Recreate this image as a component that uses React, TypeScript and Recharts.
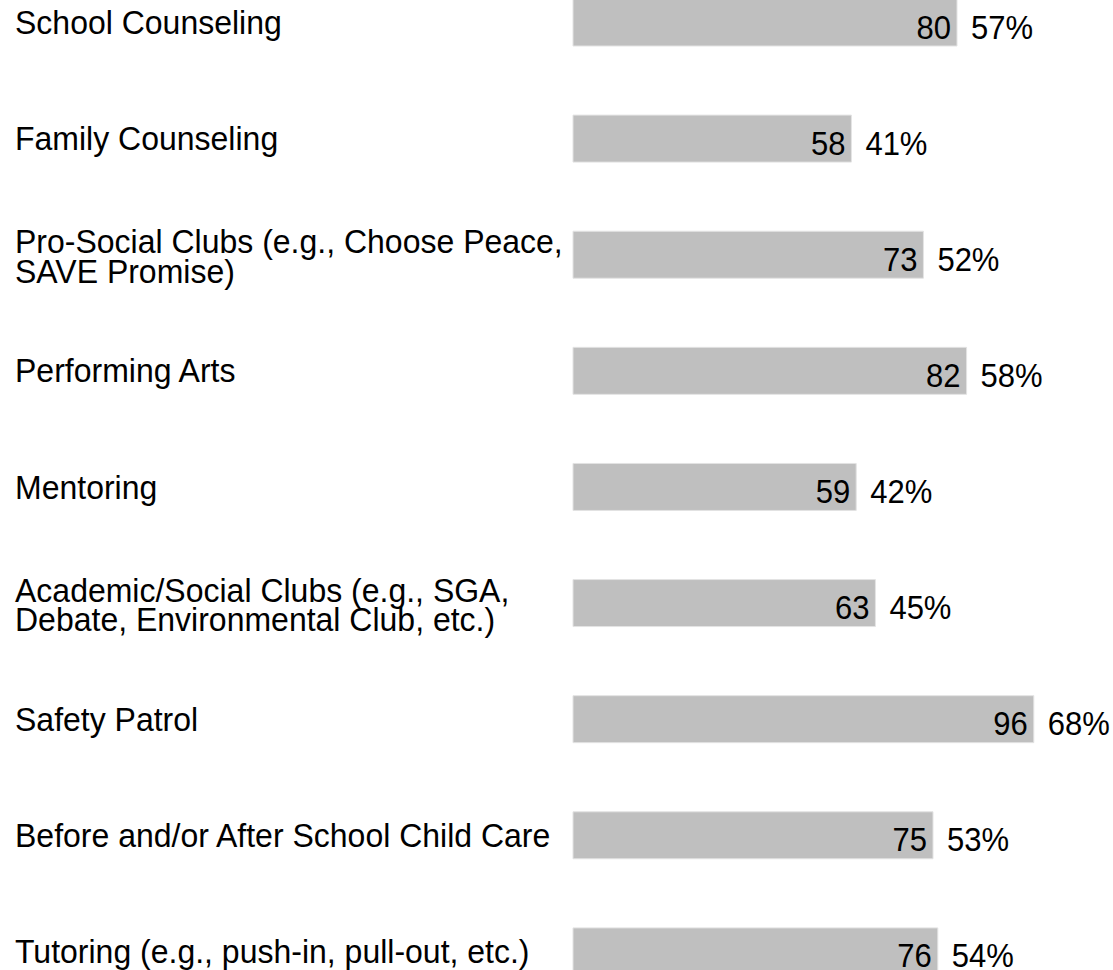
import { Bar, BarChart, LabelList, XAxis, YAxis } from 'recharts';

const categories = [
  'School Counseling',
  'Family Counseling',
  'Pro-Social Clubs (e.g., Choose Peace,\nSAVE Promise)',
  'Performing Arts',
  'Mentoring',
  'Academic/Social Clubs (e.g., SGA,\nDebate, Environmental Club, etc.)',
  'Safety Patrol',
  'Before and/or After School Child Care',
  'Tutoring (e.g., push-in, pull-out, etc.)',
];
const counts = [80, 58, 73, 82, 59, 63, 96, 75, 76];
const percents = ['57%', '41%', '52%', '58%', '42%', '45%', '68%', '53%', '54%'];

const data = categories.map((name, i) => ({ name, count: counts[i], pct: percents[i] }));

const FONT = '"Liberation Sans", Arial, sans-serif';
// the reference text is a bit taller than it is wide
const STRETCH = 1.06;

const CategoryTick = ({ y, payload }: any) => {
  const lines = String(payload.value).split('\n');
  const first = lines.length > 1 ? -1 : 12;
  return (
    <text
      transform={`translate(15, ${y + first}) scale(1, ${STRETCH})`}
      fontFamily={FONT}
      fontSize={32}
      fill="#000"
      textAnchor="start"
    >
      {lines.map((l, i) => (
        <tspan key={i} x={0} dy={i === 0 ? 0 : 29.5 / STRETCH}>
          {l}
        </tspan>
      ))}
    </text>
  );
};

const ValueLabels = (props: any) => {
  const { x, y, width, height, index } = props;
  const cy = y + height / 2 + 16;
  return (
    <g fontFamily={FONT} fontSize={31} fill="#000">
      <text transform={`translate(${x + width - 6}, ${cy}) scale(1, ${STRETCH})`} textAnchor="end">
        {counts[index]}
      </text>
      <text transform={`translate(${x + width + 14}, ${cy}) scale(1, ${STRETCH})`} textAnchor="start">
        {percents[index]}
      </text>
    </g>
  );
};

export default function App() {
  return (
    <div style={{ position: 'absolute', left: 0, top: -36 }}>
      <BarChart
        width={1113}
        height={1045}
        data={data}
        layout="vertical"
        margin={{ top: 0, right: 60, bottom: 0, left: 0 }}
      >
        <XAxis type="number" domain={[0, 100]} hide />
        <YAxis
          type="category"
          dataKey="name"
          width={573}
          axisLine={false}
          tickLine={false}
          tick={<CategoryTick />}
          interval={0}
        />
        <Bar
          dataKey="count"
          fill="#bfbfbf"
          stroke="#e3e3e3"
          strokeWidth={1}
          barSize={47}
          isAnimationActive={false}
        >
          <LabelList dataKey="count" content={<ValueLabels />} />
        </Bar>
      </BarChart>
    </div>
  );
}
